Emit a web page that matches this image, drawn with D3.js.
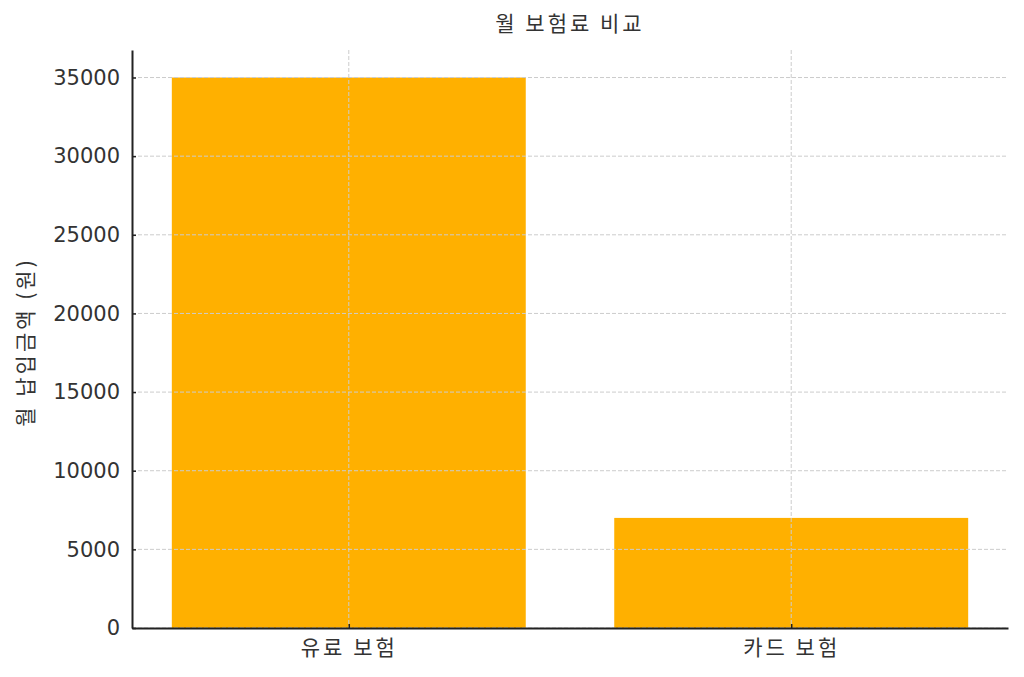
<!DOCTYPE html>
<html>
<head>
<meta charset="utf-8">
<script src="https://cdn.jsdelivr.net/npm/d3@7"></script>
<style>
  body { margin: 0; background: #fff; }
  text { font-family: "DejaVu Sans", "Noto Sans CJK KR", sans-serif; fill: #333; }
  .kr { font-family: "Noto Sans CJK KR", "DejaVu Sans", sans-serif; letter-spacing: 3px; }
</style>
</head>
<body>
<div id="chart"></div>
<script>
var categories = ["유료 보험", "카드 보험"];
var values = [35000, 7000];
var yTicks = [0, 5000, 10000, 15000, 20000, 25000, 30000, 35000];

var svgWidth = 1024;
var svgHeight = 677;

var margin = { top: 50, right: 16, bottom: 49, left: 132 };
var width = svgWidth - margin.left - margin.right;
var height = svgHeight - margin.top - margin.bottom;

var svg = d3.select("#chart")
  .append("svg")
  .attr("width", svgWidth)
  .attr("height", svgHeight);

var chartGroup = svg.append("g")
  .attr("transform", `translate(${margin.left}, ${margin.top})`);

// matplotlib style: bars at 0..n-1, width 0.8, 5% margins
var n = categories.length;
var pad = 0.05 * (n - 1 + 0.8);
var xLinearScale = d3.scaleLinear()
  .domain([-0.4 - pad, n - 1 + 0.4 + pad])
  .range([0, width]);

var yLinearScale = d3.scaleLinear()
  .domain([0, d3.max(values) * 1.05])
  .range([height, 0]);

// bars
chartGroup.selectAll("rect.bar")
  .data(values)
  .enter()
  .append("rect")
  .attr("class", "bar")
  .attr("x", (d, i) => xLinearScale(i - 0.4))
  .attr("width", (d, i) => xLinearScale(i + 0.4) - xLinearScale(i - 0.4))
  .attr("y", d => yLinearScale(d))
  .attr("height", d => height - yLinearScale(d))
  .attr("fill", "#ffb000");

// grid lines (drawn over bars)
chartGroup.append("g")
  .selectAll("line")
  .data(yTicks)
  .enter()
  .append("line")
  .attr("x1", 0)
  .attr("x2", width)
  .attr("y1", d => yLinearScale(d))
  .attr("y2", d => yLinearScale(d))
  .attr("stroke", "#cccccc")
  .attr("stroke-width", 1)
  .attr("stroke-dasharray", "4,2");

chartGroup.append("g")
  .selectAll("line")
  .data(categories)
  .enter()
  .append("line")
  .attr("x1", (d, i) => xLinearScale(i))
  .attr("x2", (d, i) => xLinearScale(i))
  .attr("y1", 0)
  .attr("y2", height)
  .attr("stroke", "#cccccc")
  .attr("stroke-width", 1)
  .attr("stroke-dasharray", "4,2");

// axes, ticks pointing inward
var bottomAxis = d3.axisBottom(xLinearScale)
  .tickValues(d3.range(n))
  .tickFormat(i => categories[i])
  .tickSizeInner(-4)
  .tickSizeOuter(0)
  .tickPadding(12);

var leftAxis = d3.axisLeft(yLinearScale)
  .tickValues(yTicks)
  .tickFormat(d3.format("d"))
  .tickSizeInner(-4)
  .tickSizeOuter(0)
  .tickPadding(12);

var xAxis = chartGroup.append("g")
  .attr("transform", `translate(0, ${height})`)
  .call(bottomAxis);

var yAxis = chartGroup.append("g")
  .call(leftAxis);

[xAxis, yAxis].forEach(function(ax) {
  ax.select(".domain").attr("stroke", "#222").attr("stroke-width", 2);
  ax.selectAll(".tick line").attr("stroke", "#222").attr("stroke-width", 1.5);
  ax.selectAll("text").attr("fill", "#333").style("font-family", null);
});

xAxis.selectAll("text")
  .attr("class", "kr")
  .attr("font-size", 21)
  .attr("dy", "0.7em");

yAxis.selectAll("text")
  .attr("font-size", 21);

// title
svg.append("text")
  .attr("class", "kr")
  .attr("x", margin.left + width / 2)
  .attr("y", 31)
  .attr("text-anchor", "middle")
  .attr("font-size", 21)
  .text("월 보험료 비교");

// y label
svg.append("text")
  .attr("class", "kr")
  .attr("transform", "translate(33, 342) rotate(-90)")
  .attr("text-anchor", "middle")
  .attr("font-size", 21)
  .text("월 납입금액 (원)");
</script>
</body>
</html>
